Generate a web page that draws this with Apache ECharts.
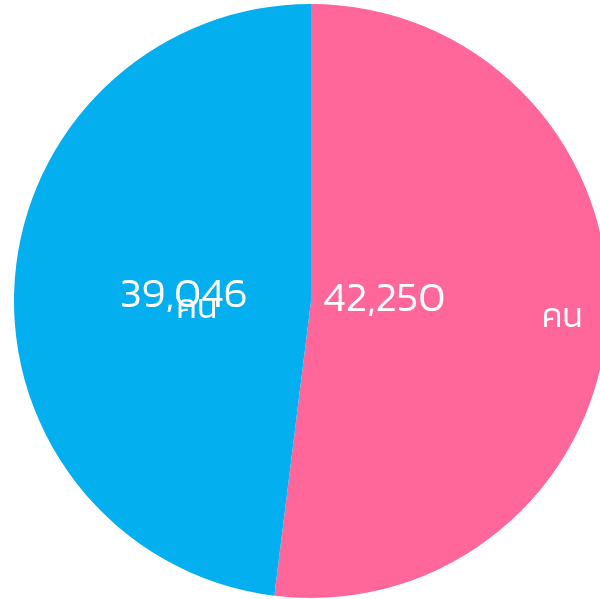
<!DOCTYPE html>
<html>
<head>
<meta charset="utf-8">
<script src="https://cdn.jsdelivr.net/npm/echarts@6/dist/echarts.min.js"></script>
<style>
html, body { margin: 0; padding: 0; background: #fff; }
#main { width: 600px; height: 599px; }
</style>
</head>
<body>
<div id="main"></div>
<script>
var myChart = echarts.init(document.getElementById('main'));

var names = ['female', 'male'];
var values = [42250, 39046];
var colors = ['#FF6699', '#03AFEF'];
var unit = 'คน';

// label nudges, per slice
var valueOffsets = [[-78, -9], [24, 5]];
var unitOffsets = [[100, 9], [37, 18]];

var fontFamily = 'Kanit, Prompt, "Noto Sans Thai", "Noto Sans", sans-serif';

function fmt(v) {
    return v.toString().replace(/\B(?=(\d{3})+(?!\d))/g, ',');
}

var valueData = names.map(function (n, i) {
    return {
        name: n,
        value: values[i],
        itemStyle: { color: colors[i] },
        label: { offset: valueOffsets[i] }
    };
});

var unitData = names.map(function (n, i) {
    return {
        name: n,
        value: values[i],
        label: { offset: unitOffsets[i] }
    };
});

myChart.setOption({
    animation: false,
    series: [{
        type: 'pie',
        center: [311, 301],
        radius: 297,
        startAngle: 90,
        clockwise: true,
        silent: true,
        avoidLabelOverlap: false,
        labelLayout: { hideOverlap: false },
        data: valueData,
        itemStyle: { borderWidth: 0 },
        label: {
            show: true,
            position: 'inside',
            color: '#fff',
            fontSize: 42,
            fontWeight: 300,
            fontFamily: fontFamily,
            formatter: function (p) { return fmt(p.value); }
        },
        labelLine: { show: false }
    }, {
        type: 'pie',
        center: [311, 301],
        radius: 297,
        startAngle: 90,
        clockwise: true,
        silent: true,
        avoidLabelOverlap: false,
        labelLayout: { hideOverlap: false },
        data: unitData,
        itemStyle: { color: 'rgba(0,0,0,0)', borderWidth: 0 },
        label: {
            show: true,
            position: 'inside',
            color: '#fff',
            fontSize: 34,
            fontWeight: 300,
            fontFamily: fontFamily,
            formatter: unit
        },
        labelLine: { show: false }
    }]
});
</script>
</body>
</html>
